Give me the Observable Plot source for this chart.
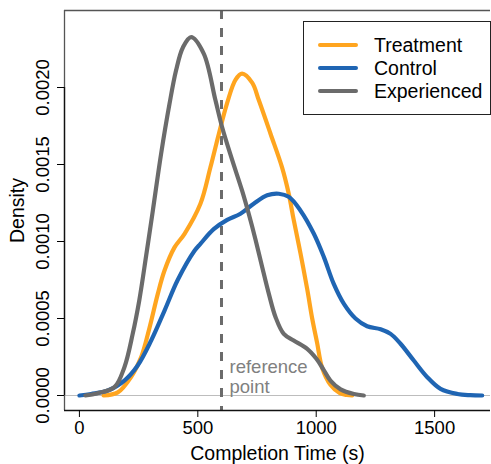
<!DOCTYPE html>
<html>
<head>
<meta charset="utf-8">
<script src="https://cdn.jsdelivr.net/npm/d3@7"></script>
<script src="https://cdn.jsdelivr.net/npm/@observablehq/plot@0.6"></script>
<style>
  html, body { margin: 0; padding: 0; background: #fff; }
  #wrap { position: relative; width: 491px; height: 464px; overflow: hidden; font-family: "Liberation Sans", Arial, sans-serif; }
  #legend { position: absolute; left: 303px; top: 21px; width: 188px; height: 94px; box-sizing: border-box; border: 1px solid #222; background: #fff; }
  .lg-line { position: absolute; left: 14px; width: 40px; height: 4px; border-radius: 2px; }
  .lg-text { position: absolute; left: 70px; font-size: 19.5px; line-height: 22px; color: #000; white-space: nowrap; }
</style>
</head>
<body>
<div id="wrap"></div>
<script>
// ---- data ----
const seriesNames = ["Treatment", "Control", "Experienced"];
const seriesColors = ["#FFA51F", "#1F65B3", "#6B6B6B"];

const treatmentX = [102,162,218,261,296,331,359,401,444,511,553,589,624,659,687,730,757,807,856,884,905,934,962,983,1004,1025,1060,1100,1130,1152];
const treatmentY = [0,0.2,1.2,2.5,4.4,6.6,8.1,9.6,10.5,12.45,14.8,17.0,19.0,20.5,20.9,20.3,19.2,17.0,14.8,13.1,11.4,9.2,6.9,5.0,3.4,1.8,0.7,0.15,0.03,0];

const controlX = [0,49,120,190,246,303,359,415,486,511,567,624,680,736,793,842,884,934,990,1032,1074,1117,1166,1215,1272,1314,1356,1412,1469,1525,1596,1650,1701];
const controlY = [0,0.1,0.32,0.97,1.95,3.57,5.5,7.5,9.4,9.85,10.8,11.4,11.8,12.45,13.0,13.1,12.9,12.0,10.5,9.0,7.25,5.95,5.0,4.5,4.3,4.0,3.36,2.27,1.19,0.43,0.1,0.02,0];

const experiencedX = [25,77,148,190,225,253,282,310,345,380,408,437,472,525,574,603,645,687,715,744,772,800,828,863,905,962,1000,1030,1060,1103,1159,1201];
const experiencedY = [0,0.15,0.54,1.84,4.0,6.2,9.1,12.0,15.7,18.9,21.1,22.6,23.27,22.2,19.2,17.4,15.3,13.3,11.8,10.1,8.33,6.6,5.1,4.0,3.57,3.03,2.4,1.7,0.97,0.4,0.1,0];

const yUnit = 1e-4; // y arrays are in units of 0.0001
const referencePoint = 600;
const xTicks = [0, 500, 1000, 1500];
const yTicks = [0, 0.0005, 0.0010, 0.0015, 0.0020];
const xLabel = "Completion Time (s)";
const yLabel = "Density";
const refLabel = "reference\npoint";

// ---- build table ----
const xsList = [treatmentX, controlX, experiencedX];
const ysList = [treatmentY, controlY, experiencedY];
const rows = [];
seriesNames.forEach((name, i) => {
  xsList[i].forEach((x, j) => rows.push({series: name, x, y: ysList[i][j] * yUnit}));
});

const xDomain = [-63, 1736];
const yDomain = [-0.0000974, 0.0025];
const boxColor = "#555";

const chart = Plot.plot({
  width: 491,
  height: 464,
  marginLeft: 64,
  marginRight: 1,
  marginTop: 10,
  marginBottom: 54,
  x: {domain: xDomain},
  y: {domain: yDomain},
  color: {domain: seriesNames, range: seriesColors},
  style: {fontFamily: "'Liberation Sans', Arial, sans-serif", fontSize: "18.5px", color: "#000", background: "#fff", overflow: "visible"},
  marks: [
    Plot.ruleY([0], {stroke: "#bdbdbd", strokeWidth: 1}),
    Plot.ruleX([referencePoint], {stroke: "#6B6B6B", strokeWidth: 3, strokeDasharray: "9,9"}),
    Plot.text([refLabel], {x: referencePoint, y: 0.000123, text: d => d, textAnchor: "start", dx: 8, fill: "#808080", fontSize: 18.5, lineHeight: 1.08}),
    Plot.line(rows, {x: "x", y: "y", z: "series", stroke: "series", strokeWidth: 4.2, curve: "catmull-rom"}),
    // box
    Plot.ruleY([yDomain[1]], {stroke: boxColor, strokeWidth: 1.3}),
    Plot.ruleX([xDomain[0]], {stroke: boxColor, strokeWidth: 1.3}),
    Plot.ruleY([yDomain[0]], {stroke: "#111", strokeWidth: 1.3}),
    Plot.ruleX([xDomain[0]], {y1: yTicks[0], y2: yTicks[yTicks.length - 1], stroke: "#111", strokeWidth: 1.3}),
    // axes
    Plot.axisX({ticks: xTicks, tickSize: 7, tickPadding: 3, fontSize: 18.5, label: null, tickFormat: d => String(d)}),
    Plot.axisY({ticks: yTicks, tickSize: 7, label: null, tickFormat: () => ""}),
    Plot.text(yTicks, {x: xDomain[0], y: d => d, text: d3.format(".4f"), rotate: -90, dx: -21.5, fontSize: 18.5, textAnchor: "middle"}),
    Plot.text([xLabel], {frameAnchor: "bottom", dy: 43, fontSize: 19.5, lineAnchor: "middle", textAnchor: "middle"}),
    Plot.text([yLabel], {frameAnchor: "left", dx: -47, rotate: -90, fontSize: 19.5, textAnchor: "middle", lineAnchor: "middle"})
  ]
});

const wrap = document.getElementById("wrap");
wrap.appendChild(chart);

// legend
const legend = document.createElement("div");
legend.id = "legend";
const centers = [23, 46, 69];
seriesNames.forEach((name, i) => {
  const line = document.createElement("div");
  line.className = "lg-line";
  line.style.top = (centers[i] - 2) + "px";
  line.style.background = seriesColors[i];
  legend.appendChild(line);
  const t = document.createElement("div");
  t.className = "lg-text";
  t.style.top = (centers[i] - 11) + "px";
  t.textContent = name;
  legend.appendChild(t);
});
wrap.appendChild(legend);
</script>
</body>
</html>
